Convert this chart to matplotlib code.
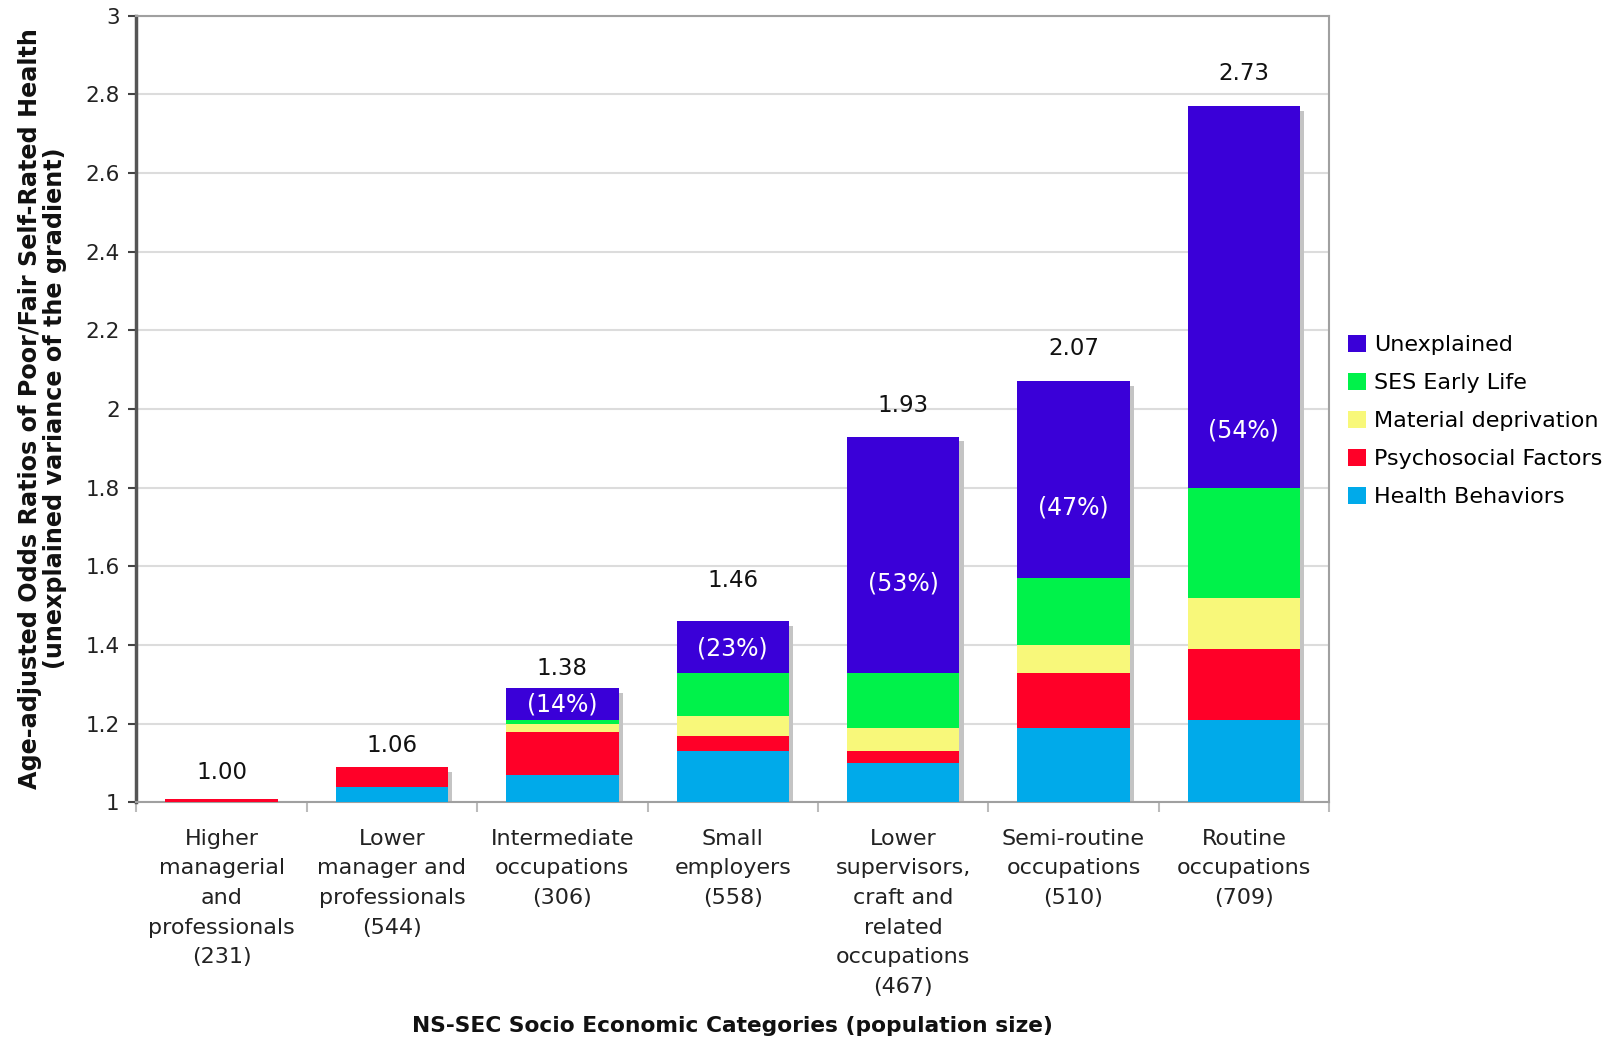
import numpy as np
import matplotlib
matplotlib.use('Agg')
import matplotlib.pyplot as plt

# Datos
categorias = ['Higher\nmanagerial\nand\nprofessionals\n(231)',
              'Lower\nmanager and\nprofessionals\n(544)',
              'Intermediate\noccupations\n(306)',
              'Small\nemployers\n(558)',
              'Lower\nsupervisors,\ncraft and\nrelated\noccupations\n(467)',
              'Semi-routine\noccupations\n(510)',
              'Routine\noccupations\n(709)']

# alturas de cada tramo (sobre la base 1)
health_behaviors = [0.00, 0.04, 0.07, 0.13, 0.10, 0.19, 0.21]
psychosocial     = [0.01, 0.05, 0.11, 0.04, 0.03, 0.14, 0.18]
material         = [0.00, 0.00, 0.02, 0.05, 0.06, 0.07, 0.13]
ses_early        = [0.00, 0.00, 0.01, 0.11, 0.14, 0.17, 0.28]
unexplained      = [0.00, 0.00, 0.08, 0.13, 0.60, 0.50, 0.97]

valores = ['1.00', '1.06', '1.38', '1.46', '1.93', '2.07', '2.73']
porcentajes = ['', '', '(14%)', '(23%)', '(53%)', '(47%)', '(54%)']

series = [('Health Behaviors', health_behaviors, '#00aaea'),
          ('Psychosocial Factors', psychosocial, '#ff0028'),
          ('Material deprivation', material, '#f8f87a'),
          ('SES Early Life', ses_early, '#00f24a'),
          ('Unexplained', unexplained, '#3a00d8')]

# ===== Gráfico =====
fig = plt.figure(figsize=(16.09, 10.40), dpi=100)
ax = fig.add_axes([0.0848, 0.2284, 0.7412, 0.7566])

x = np.arange(len(categorias))
w = 0.66
base = 1.0

# Sombra de las barras
totales = np.sum([s[1] for s in series], axis=0)
ax.bar(x + 0.025, totales - 0.012, w, bottom=base, color='#c4c4c4',
       zorder=2, linewidth=0)

bottom = np.full(len(x), base)
handles = {}
for nombre, vals, color in series:
    vals = np.array(vals)
    h = ax.bar(x, vals, w, bottom=bottom, color=color, zorder=3,
               linewidth=0, label=nombre)
    handles[nombre] = h
    bottom = bottom + vals

# Etiquetas de valor
offsets = [0.065, 0.055, 0.05, 0.105, 0.08, 0.083, 0.083]
for xi, top, txt, off in zip(x, bottom, valores, offsets):
    ax.text(xi, top + off, txt, ha='center', va='center', fontsize=16.5,
            color='#111111', zorder=5)

# Porcentajes dentro de "Unexplained"
pct_y = [0, 0, 1.249, 1.392, 1.557, 1.75, 1.946]
for xi, txt, yy in zip(x, porcentajes, pct_y):
    if txt:
        ax.text(xi, yy, txt, ha='center', va='center', fontsize=17,
                color='white', zorder=5)

# Ejes
ax.set_xlim(-0.5, len(x) - 0.5)
ax.set_ylim(1, 3)
yt = np.arange(1, 3.01, 0.2)
ax.set_yticks(yt)
ax.set_yticklabels([f'{v:g}' for v in np.round(yt, 1)], fontsize=15.5)
ax.yaxis.grid(True, color='#dcdcdc', linewidth=1.5, zorder=0)
ax.set_axisbelow(True)

ax.set_xticks(np.arange(-0.5, len(x), 1.0))
ax.set_xticklabels([])
ax.set_xticks(x, minor=True)
ax.set_xticklabels(categorias, minor=True, fontsize=16, color='#222222',
                   linespacing=1.6)
ax.tick_params(axis='x', which='minor', length=0, pad=19)
ax.tick_params(axis='x', which='major', length=7, color='#bbbbbb', width=1.5)
ax.tick_params(axis='y', length=6, width=1.5, color='#444444', pad=6,
               labelcolor='#222222')

for lado in ['top', 'right', 'bottom']:
    ax.spines[lado].set_color('#a0a0a0')
    ax.spines[lado].set_linewidth(1.5)
ax.spines['left'].set_color('#555555')
ax.spines['left'].set_linewidth(2.5)

fig.text(0.0265, 0.607,
         'Age-adjusted Odds Ratios of Poor/Fair Self-Rated Health\n'
         '(unexplained variance of the gradient)',
         rotation=90, ha='center', va='center', fontsize=17.2,
         fontweight='bold', linespacing=1.05, color='#111111')
fig.text(0.4555, 0.0135, 'NS-SEC Socio Economic Categories (population size)',
         ha='center', va='center', fontsize=15.7, fontweight='bold',
         color='#111111')

orden = ['Unexplained', 'SES Early Life', 'Material deprivation',
         'Psychosocial Factors', 'Health Behaviors']
fig.legend([handles[n] for n in orden], orden, loc='center left',
           bbox_to_anchor=(0.838, 0.5955), frameon=False, fontsize=16,
           handlelength=0.8, handleheight=0.8, handletextpad=0.35,
           labelspacing=0.80, borderpad=0, borderaxespad=0)

fig.savefig('out.png', dpi=100)
